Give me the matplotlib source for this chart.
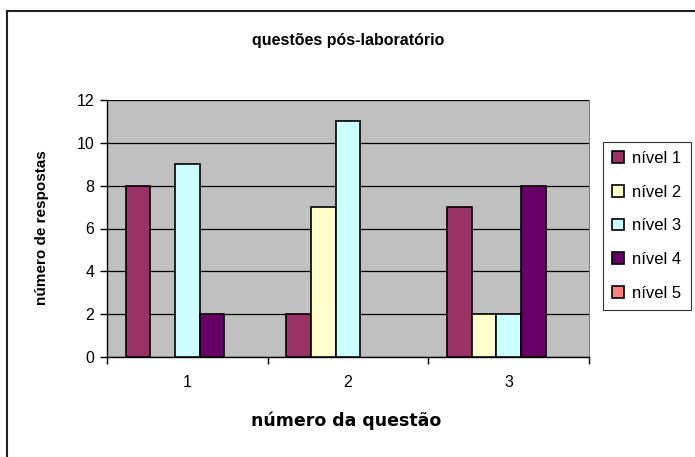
import numpy as np
import matplotlib.pyplot as plt
from matplotlib.patches import Rectangle

plt.rcParams['font.family'] = ['Liberation Sans', 'DejaVu Sans']

# dados do gráfico
questoes = ['1', '2', '3']
niveis = ['nível 1', 'nível 2', 'nível 3', 'nível 4', 'nível 5']
nivel1 = [8, 2, 7]
nivel2 = [0, 7, 2]
nivel3 = [9, 11, 2]
nivel4 = [2, 0, 8]
nivel5 = [0, 0, 0]
cores = ['#993366', '#FFFFCC', '#CCFFFF', '#660066', '#FF8080']

fig = plt.figure(figsize=(6.95, 4.57), dpi=100)
ax = fig.add_axes([107 / 695, 1 - 357 / 457, 482 / 695, 257 / 457])

# moldura externa (cortada à direita e em baixo)
fig.patches.append(Rectangle((7 / 695, -0.05), 1.1, 1 - 11 / 457 + 0.05,
                             transform=fig.transFigure, fill=False,
                             edgecolor='#222222', linewidth=1.5))

series = [nivel1, nivel2, nivel3, nivel4, nivel5]
x = np.arange(len(questoes))
largura = 1 / 6.5
for k, (vals, cor, nome) in enumerate(zip(series, cores, niveis)):
    pos = x + (k - 2) * largura
    # barras com valor zero não aparecem (como no Excel)
    lw = [1.2 if v > 0 else 0 for v in vals]
    ax.bar(pos, vals, width=largura, color=cor, edgecolor='black',
           linewidth=lw, label=nome, zorder=3)

ax.set_facecolor('#C0C0C0')
ax.set_xlim(-0.5, 2.5)
ax.set_ylim(0, 12)
ax.set_yticks(range(0, 13, 2))
ax.yaxis.grid(True, color='black', linewidth=0.9, zorder=1)
ax.set_axisbelow(True)

# ticks nas fronteiras das categorias, rótulos no centro
ax.set_xticks([-0.5, 0.5, 1.5, 2.5])
ax.set_xticklabels([])
ax.set_xticks(x, minor=True)
ax.set_xticklabels(questoes, minor=True)
ax.tick_params(axis='x', which='minor', length=0, pad=13, labelsize=11.5)
ax.tick_params(axis='x', which='major', length=5, width=1, direction='out')
ax.tick_params(axis='y', length=5, width=1, direction='out', labelsize=11.5, pad=4)

for s in ['left', 'bottom']:
    ax.spines[s].set_color('black')
    ax.spines[s].set_linewidth(1)
ax.spines['top'].set_visible(False)
ax.spines['right'].set_color('#808080')

fig.text(348 / 695, 1 - 40 / 457, 'questões pós-laboratório', ha='center',
         va='center', fontsize=11.5, fontweight='bold')
fig.text(346 / 695, 1 - 421 / 457, 'número da questão', ha='center',
         va='center', fontsize=12.5, fontweight='bold', family='DejaVu Sans')
fig.text(42 / 695, 1 - 228 / 457, 'número de respostas', ha='center',
         va='center', rotation=90, fontsize=11, fontweight='bold')

leg = ax.legend(loc='upper left', bbox_to_anchor=(603 / 695, 1 - 142 / 457),
                bbox_transform=fig.transFigure, frameon=True, fancybox=False,
                edgecolor='black', fontsize=12, handlelength=0.7,
                handleheight=0.7, handletextpad=0.5, labelspacing=1.12,
                borderpad=0.55, borderaxespad=0)
leg.get_frame().set_linewidth(0.8)
for h in leg.legend_handles:
    h.set_linewidth(1.2)

fig.savefig('out.png', dpi=100)
